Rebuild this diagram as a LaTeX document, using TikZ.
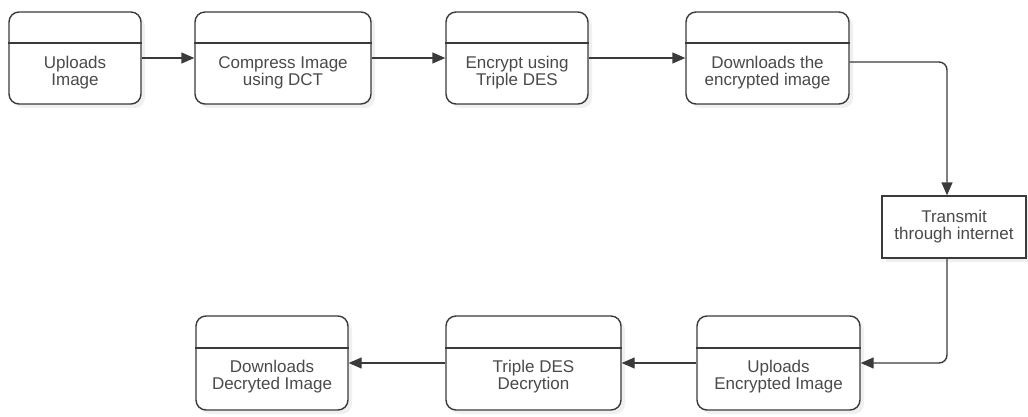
\documentclass[tikz,border=0pt]{standalone}
\usepackage{fontspec}
\setmainfont{Liberation Sans}
\usetikzlibrary{arrows.meta,shadows}
\definecolor{linec}{HTML}{3A3A3A}
\definecolor{textc}{HTML}{4A4A4A}
\begin{document}
\begin{tikzpicture}[x=1pt,y=-1pt,
  boxbase/.style={draw=linec, line width=1.4pt, fill=white, inner sep=0pt,
    drop shadow={opacity=0.12, shadow xshift=4pt, shadow yshift=-4pt}},
  stepbox/.style={boxbase, rounded corners=10pt},
  plainbox/.style={boxbase},
  lbl/.style={text=textc, align=center, font=\fontsize{17}{17}\selectfont, inner sep=0pt},
  hdr/.style={draw=linec, line width=1.4pt},
  arr/.style={draw=linec, line width=1.4pt, -{Triangle[length=13pt,width=11pt]}},
]
\useasboundingbox (0,0) rectangle (1028,417);

% top row: x-range, y 12..104, header at 43
\node[stepbox, minimum width=132pt, minimum height=92pt] (b1) at (75,58) {};
\node[stepbox, minimum width=176pt, minimum height=92pt] (b2) at (283,58) {};
\node[stepbox, minimum width=142pt, minimum height=92pt] (b3) at (517,58) {};
\node[stepbox, minimum width=163pt, minimum height=92pt] (b4) at (767.5,58) {};
% transmit
\node[plainbox, minimum width=144pt, minimum height=62pt] (tr) at (954,227) {};
% bottom row: y 316..410, header at 348
\node[stepbox, minimum width=163pt, minimum height=94pt] (b5) at (778.5,363) {};
\node[stepbox, minimum width=175pt, minimum height=94pt] (b6) at (533.5,363) {};
\node[stepbox, minimum width=152pt, minimum height=94pt] (b7) at (272,363) {};

% headers
\foreach \b in {b1,b2,b3,b4} \draw[hdr] (\b.west |- 0,43) -- (\b.east |- 0,43);
\foreach \b in {b5,b6,b7} \draw[hdr] (\b.west |- 0,348) -- (\b.east |- 0,348);

% labels
\node[lbl] (t1) at (75,73) {Uploads\\Image};
\node[lbl] (t2) at (283,73) {Compress Image\\using DCT};
\node[lbl] (t3) at (517,73) {Encrypt using\\Triple DES};
\node[lbl] (t4) at (767.5,73) {Downloads the\\encrypted image};
\node[lbl] (ttr) at (954,227) {Transmit\\through internet};
\node[lbl] (t5) at (778.5,377) {Uploads\\Encrypted Image};
\node[lbl] (t6) at (533.5,377) {Triple DES\\Decrytion};
\node[lbl] (t7) at (272,377) {Downloads\\Decryted Image};

\coordinate (vx) at (947,0);

% connectors
\draw[arr] (b1.east) -- (b2.west);
\draw[arr] (b2.east) -- (b3.west);
\draw[arr] (b3.east) -- (b4.west);
\draw[arr, rounded corners=8pt] ([yshift=-4pt]b4.east) -| (tr.north -| vx);
\draw[arr, rounded corners=8pt] (tr.south -| vx) |- (b5.east);
\draw[arr] (b5.west) -- (b6.east);
\draw[arr] (b6.west) -- (b7.east);
\end{tikzpicture}
\end{document}
